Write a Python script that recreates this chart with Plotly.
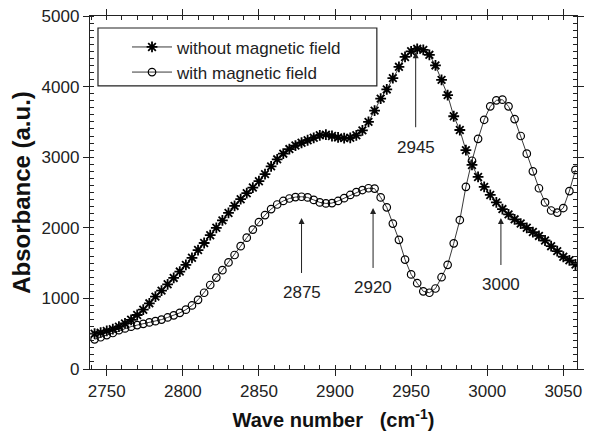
import plotly.graph_objects as go

# wave numbers (cm^-1)
wavenumber = [2742, 2746, 2750, 2754, 2758, 2762, 2766, 2770, 2774, 2778,
              2782, 2786, 2790, 2794, 2798, 2802, 2806, 2810, 2814, 2818,
              2822, 2826, 2830, 2834, 2838, 2842, 2846, 2850, 2854, 2858,
              2862, 2866, 2870, 2874, 2878, 2882, 2886, 2890, 2894, 2898,
              2902, 2906, 2910, 2914, 2918, 2922, 2926, 2930, 2934, 2938,
              2942, 2946, 2950, 2954, 2958, 2962, 2966, 2970, 2974, 2978,
              2982, 2986, 2990, 2994, 2998, 3002, 3006, 3010, 3014, 3018,
              3022, 3026, 3030, 3034, 3038, 3042, 3046, 3050, 3054, 3058]

without_field = [500, 515, 540, 565, 600, 645, 697, 765, 840, 930,
                 1025, 1110, 1200, 1290, 1380, 1475, 1575, 1685, 1785, 1895,
                 2000, 2105, 2210, 2310, 2405, 2490, 2570, 2660, 2760, 2870,
                 2970, 3050, 3115, 3165, 3205, 3240, 3275, 3310, 3320, 3300,
                 3280, 3270, 3275, 3310, 3380, 3500, 3660, 3830, 3960, 4120,
                 4280, 4420, 4500, 4535, 4520, 4450, 4300, 4095, 3880, 3580,
                 3385, 3100, 2890, 2720, 2580, 2465, 2360, 2265, 2190, 2120,
                 2060, 2000, 1940, 1885, 1820, 1740, 1670, 1590, 1540, 1480]

with_field = [420, 450, 480, 510, 550, 575, 600, 622, 640, 660,
              678, 700, 730, 760, 795, 840, 900, 980, 1080, 1190,
              1295, 1400, 1510, 1615, 1740, 1860, 1975, 2080, 2180, 2265,
              2330, 2380, 2415, 2435, 2440, 2430, 2395, 2360, 2345, 2350,
              2380, 2420, 2465, 2505, 2535, 2560, 2555, 2430, 2290, 2060,
              1830, 1550, 1340, 1215, 1100, 1080, 1140, 1300, 1475, 1780,
              2110, 2580, 2950, 3260, 3530, 3720, 3805, 3815, 3720, 3540,
              3300, 3050, 2800, 2560, 2360, 2245, 2215, 2280, 2520, 2820]

x_ticks = [2750, 2800, 2850, 2900, 2950, 3000, 3050]
y_ticks = [0, 1000, 2000, 3000, 4000, 5000]

# peak labels: (label, arrow tip x, arrow tip y, text offset px)
peak_labels = ["2875", "2920", "2945", "3000"]
peak_tip_x = [2878, 2925, 2953, 3009]
peak_tip_y = [2139, 2281, 4487, 2139]
peak_text_offset = [75, 80, 95, 67]

FONT = "Liberation Sans, Arial, Helvetica, sans-serif"

fig = go.Figure()
fig.add_trace(go.Scatter(
    x=wavenumber, y=without_field, mode="lines+markers",
    name="without magnetic field",
    line=dict(color="#222", width=0.9),
    marker=dict(symbol="asterisk-open", size=9, color="black",
                line=dict(color="black", width=1.8)),
))
fig.add_trace(go.Scatter(
    x=wavenumber, y=with_field, mode="lines+markers",
    name="with magnetic field",
    line=dict(color="#222", width=0.9),
    marker=dict(symbol="circle-open", size=7.5, color="black",
                line=dict(color="black", width=1.2)),
))

for lab, tx, ty, off in zip(peak_labels, peak_tip_x, peak_tip_y, peak_text_offset):
    fig.add_annotation(
        x=tx, y=ty, text=lab, showarrow=True, ax=0, ay=off,
        arrowhead=2, arrowsize=1.2, arrowwidth=1, arrowcolor="#222",
        startstandoff=9,
        font=dict(family=FONT, size=17, color="#222"),
    )

# legend frame
fig.add_shape(type="rect", xref="paper", yref="paper",
              x0=0.0164, x1=0.589, y0=0.802, y1=0.966,
              line=dict(color="#222", width=1.2), fillcolor="white",
              layer="below")

axis_common = dict(
    showline=True, linecolor="#222", linewidth=1.3, mirror="ticks",
    ticks="outside", ticklen=6, tickwidth=1.2, tickcolor="#222",
    showgrid=False, zeroline=False, automargin=False,
    ticklabeloverflow="allow",
    tickfont=dict(family=FONT, size=17, color="#222"),
)

fig.update_xaxes(
    range=[2739, 3059], tickvals=x_ticks,
    minor=dict(dtick=10, tick0=2750, ticks="inside", ticklen=4,
               tickwidth=1, tickcolor="#222"),
    title=dict(text="<b>Wave number\u00a0\u00a0\u00a0(cm<sup>-1</sup>)</b>",
               font=dict(family=FONT, size=20, color="#111"), standoff=13),
    **axis_common,
)
fig.update_yaxes(
    range=[0, 5000], tickvals=y_ticks,
    minor=dict(dtick=100, tick0=0, ticks="inside", ticklen=4,
               tickwidth=1, tickcolor="#222"),
    title=dict(text="<b>Absorbance (a.u.)</b>",
               font=dict(family=FONT, size=24, color="#111"), standoff=10),
    **axis_common,
)

# page body adds an 8px offset; the figure is sized to fit the 597x440 view
fig.update_layout(
    width=589, height=432,
    margin=dict(l=82, r=20, t=8, b=71, autoexpand=False),
    paper_bgcolor="white", plot_bgcolor="white",
    showlegend=True,
    legend=dict(x=0.076, y=0.962, xanchor="left", yanchor="top",
                bgcolor="rgba(0,0,0,0)", borderwidth=0,
                font=dict(family=FONT, size=17, color="#222"),
                tracegroupgap=0, itemwidth=40),
)

fig.write_html("out.html")
